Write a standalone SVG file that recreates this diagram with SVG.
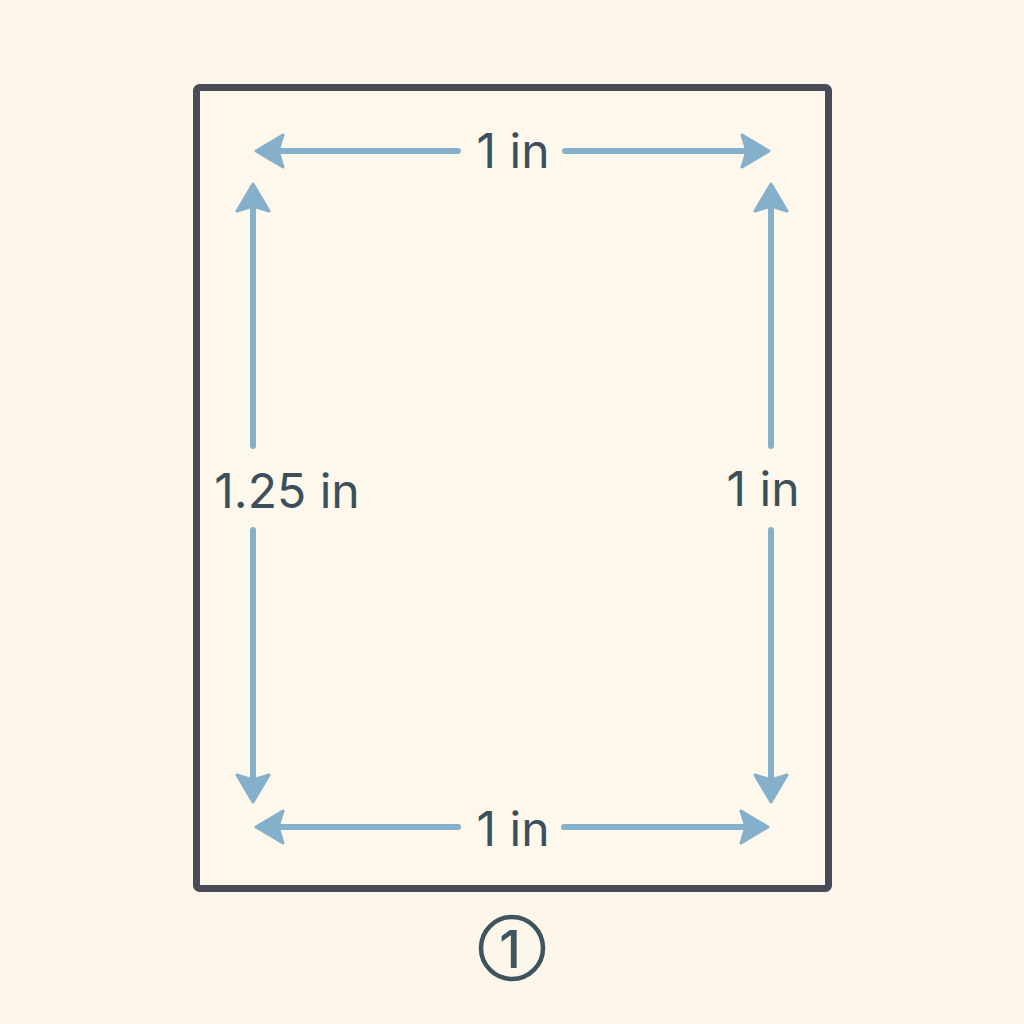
<svg xmlns="http://www.w3.org/2000/svg" xmlns:xlink="http://www.w3.org/1999/xlink" width="1024" height="1024" viewBox="0 0 1024 1024">
  <style>
    .dim { stroke: #84b0cc; stroke-width: 6; stroke-linecap: round; fill: none; }
    .head { fill: #84b0cc; stroke: #84b0cc; stroke-width: 3; stroke-linejoin: round; }
    .lbl { font-family: Inter, "Noto Sans", "DejaVu Sans", sans-serif; font-size: 48px; fill: #3c4f5c; text-anchor: middle; }
  </style>
  <defs>
    <path id="head" d="M0,0 L-27,-16 L-22,0 L-27,16 Z"/>
  </defs>
  <rect width="1024" height="1024" fill="#fdf6ea"/>
  <g id="page">
    <rect x="196.5" y="87.5" width="632" height="801" rx="3" fill="#fef7eb" stroke="#4a4b58" stroke-width="7"/>
  </g>
  <g id="connectors">
    <line class="dim" x1="278" y1="151" x2="458" y2="151"/>
    <line class="dim" x1="565" y1="151" x2="748" y2="151"/>
    <use href="#head" class="head" transform="translate(256,151) rotate(180)"/>
    <use href="#head" class="head" transform="translate(769,151)"/>

    <line class="dim" x1="278" y1="827" x2="458" y2="827"/>
    <line class="dim" x1="564" y1="827" x2="747" y2="827"/>
    <use href="#head" class="head" transform="translate(256,827) rotate(180)"/>
    <use href="#head" class="head" transform="translate(768,827)"/>

    <line class="dim" x1="253" y1="205" x2="253" y2="446"/>
    <line class="dim" x1="253" y1="530" x2="253" y2="781"/>
    <use href="#head" class="head" transform="translate(253,184) rotate(-90)"/>
    <use href="#head" class="head" transform="translate(253,802) rotate(90)"/>

    <line class="dim" x1="771" y1="205" x2="771" y2="446"/>
    <line class="dim" x1="771" y1="530" x2="771" y2="781"/>
    <use href="#head" class="head" transform="translate(771,184) rotate(-90)"/>
    <use href="#head" class="head" transform="translate(771,802) rotate(90)"/>
  </g>
  <g id="label-top"><text class="lbl" x="513" y="168">1 in</text></g>
  <g id="label-bottom"><text class="lbl" x="513" y="846">1 in</text></g>
  <g id="label-left"><text class="lbl" x="287" y="508">1.25 in</text></g>
  <g id="label-right"><text class="lbl" x="763" y="506">1 in</text></g>
  <g id="badge">
    <circle cx="512" cy="948" r="31" fill="none" stroke="#3e5560" stroke-width="4.5"/>
    <text class="lbl" x="510" y="968" style="font-size:52px;font-weight:500;fill:#3e5560">1</text>
  </g>
</svg>
